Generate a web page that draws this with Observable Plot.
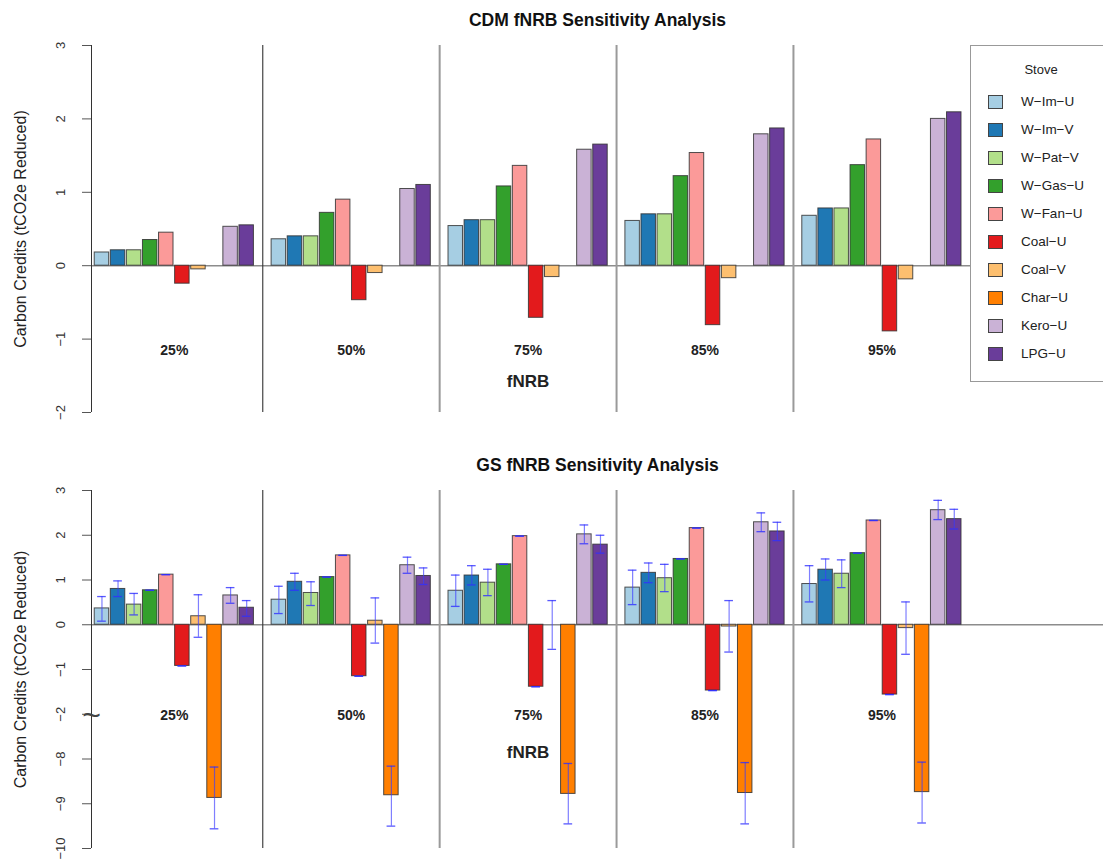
<!DOCTYPE html>
<html><head><meta charset="utf-8">
<script src="https://cdn.jsdelivr.net/npm/d3@7"></script>
<script src="https://cdn.jsdelivr.net/npm/@observablehq/plot@0.6"></script>
<style>
body{margin:0;background:#fff;font-family:"Liberation Sans",Arial,Helvetica,sans-serif;}
#wrap{position:relative;width:1103px;height:860px;overflow:hidden;background:#fff;}
.panel{position:absolute;left:0;}
#legend{position:absolute;left:970px;top:45px;width:150px;height:337px;border:1px solid #999;background:#fff;box-sizing:border-box;color:#222;}
#legend .ttl{position:absolute;left:0;width:140px;top:16px;text-align:center;font-size:13px;}
#legend .row{position:absolute;left:17px;height:16px;}
#legend .sw{position:absolute;left:0;top:0;width:15px;height:14px;border:1px solid #444;box-sizing:border-box;}
#legend .lb{position:absolute;left:33px;top:-1px;font-size:13.5px;white-space:nowrap;}
</style></head><body><div id="wrap"></div>
<script>
const fnrb = ["25%","50%","75%","85%","95%"];
const stoves = ["W\u2212Im\u2212U","W\u2212Im\u2212V","W\u2212Pat\u2212V","W\u2212Gas\u2212U","W\u2212Fan\u2212U","Coal\u2212U","Coal\u2212V","Char\u2212U","Kero\u2212U","LPG\u2212U"];
const stoveColors = ["#A6CEE3","#1F78B4","#B2DF8A","#33A02C","#FB9A99","#E31A1C","#FDBF6F","#FF7F00","#CAB2D6","#6A3D9A"];

// CDM values: one row per stove, one column per fNRB level
const cdmValues = [
  [0.18,0.36,0.54,0.61,0.68],
  [0.21,0.40,0.62,0.70,0.78],
  [0.21,0.40,0.62,0.70,0.78],
  [0.35,0.72,1.08,1.22,1.37],
  [0.45,0.90,1.36,1.535,1.72],
  [-0.245,-0.47,-0.71,-0.81,-0.895],
  [-0.05,-0.10,-0.155,-0.17,-0.186],
  [0,0,0,0,0],
  [0.53,1.045,1.58,1.79,2.0],
  [0.55,1.10,1.65,1.87,2.09]
];
// GS values with error-bar limits
const gsValues = [
  [0.365,0.56,0.76,0.83,0.91],
  [0.80,0.96,1.10,1.16,1.23],
  [0.45,0.71,0.94,1.04,1.14],
  [0.77,1.065,1.35,1.47,1.60],
  [1.12,1.55,1.98,2.16,2.33],
  [-0.92,-1.15,-1.385,-1.47,-1.56],
  [0.19,0.09,0.0,-0.04,-0.075],
  [-8.87,-8.81,-8.78,-8.76,-8.74],
  [0.655,1.33,2.02,2.29,2.56],
  [0.38,1.09,1.79,2.085,2.36]
];
const gsLow = [
  [0.08,0.25,0.41,0.45,0.51],
  [0.63,0.77,0.89,0.94,1.00],
  [0.22,0.43,0.65,0.74,0.83],
  [0.77,1.065,1.35,1.47,1.60],
  [1.12,1.55,1.98,2.16,2.33],
  [-0.92,-1.15,-1.385,-1.47,-1.56],
  [-0.28,-0.41,-0.55,-0.61,-0.66],
  [-9.56,-9.50,-9.45,-9.45,-9.43],
  [0.48,1.15,1.81,2.08,2.35],
  [0.19,0.90,1.60,1.88,2.14]
];
const gsHigh = [
  [0.63,0.86,1.11,1.22,1.32],
  [0.98,1.15,1.32,1.38,1.47],
  [0.70,0.96,1.24,1.35,1.45],
  [0.77,1.065,1.35,1.47,1.60],
  [1.12,1.55,1.98,2.16,2.33],
  [-0.92,-1.15,-1.385,-1.47,-1.56],
  [0.67,0.60,0.54,0.54,0.51],
  [-8.18,-8.16,-8.10,-8.08,-8.07],
  [0.83,1.51,2.23,2.50,2.78],
  [0.54,1.27,2.00,2.29,2.58]
];
const cdmTicks = [-2,-1,0,1,2,3];
const gsTicks = [-5,-4,-3,-2,-1,0,1,2,3]; // display positions; below the break they read -8,-9,-10
const gsBreakTick = [-2];

const GROUP = stoves.length + 1; // slots per group (one empty slot between groups)
const FONT = '"Liberation Sans", Arial, Helvetica, sans-serif';
const minus = v => String(v).replace("-", "\u2212");

function buildRows(vals, lo, hi) {
  const rows = [];
  fnrb.forEach((f, g) => stoves.forEach((s, i) => rows.push({
    stove: s, fnrb: f, pos: g * GROUP + i, color: stoveColors[i],
    value: vals[i][g], lo: lo ? lo[i][g] : null, hi: hi ? hi[i][g] : null
  })));
  return rows;
}
const groups = fnrb.map((f, g) => ({label: f, center: g * GROUP + (stoves.length - 1) / 2}));
const seps = fnrb.slice(1).map((f, g) => ({pos: g * GROUP + stoves.length, first: g === 0}));
const X_DOMAIN = [-0.65, 62.28];

function panel(o) {
  const brk = o.brk || (v => v);
  const rows = o.rows;
  const mid = {textAnchor: "middle", lineAnchor: "middle"};
  const marks = [
    Plot.ruleY([0], {stroke: "#8c8c8c", strokeWidth: 1.6}),
    Plot.ruleX(seps, {x: "pos", stroke: d => d.first ? "#333" : "#9a9a9a", strokeWidth: d => d.first ? 1.1 : 2}),
    Plot.rectY(rows, {x1: d => d.pos - 0.45, x2: d => d.pos + 0.45, y1: 0, y2: d => brk(d.value),
      fill: "color", stroke: "#333", strokeWidth: 1, strokeOpacity: 0.85})
  ];
  if (o.errors) {
    const er = rows.filter(d => d.lo != null);
    marks.push(
      Plot.ruleX(er, {x: "pos", y1: d => brk(d.lo), y2: d => brk(d.hi), stroke: "#3a3aff", strokeOpacity: 0.65, strokeWidth: 1.2}),
      Plot.ruleY(er, {x1: d => d.pos - 0.27, x2: d => d.pos + 0.27, y: d => brk(d.lo), stroke: "#2f2fff", strokeOpacity: 0.8, strokeWidth: 1.3}),
      Plot.ruleY(er, {x1: d => d.pos - 0.27, x2: d => d.pos + 0.27, y: d => brk(d.hi), stroke: "#2f2fff", strokeOpacity: 0.8, strokeWidth: 1.3})
    );
  }
  marks.push(
    Plot.ruleX([X_DOMAIN[0]], {y1: o.yDomain[0], y2: o.yDomain[1], stroke: "#333", strokeWidth: 1}),
    Plot.axisY({ticks: o.ticks, tickSize: 9, tickFormat: () => "", stroke: "#555"}),
    Plot.text(o.ticks, {y: d => d, text: d => minus(o.fmt(d)), frameAnchor: "left", dx: -31, rotate: -90, fontSize: 13, fill: "#333", ...mid}),
    Plot.text(groups, {x: "center", text: "label", frameAnchor: "bottom", dy: o.labelDy, fontSize: 14, fontWeight: "bold", fill: "#222", ...mid}),
    Plot.text([groups[2]], {x: "center", text: () => "fNRB", frameAnchor: "bottom", dy: o.fnrbDy, fontSize: 17, fontWeight: "bold", fill: "#222", ...mid}),
    Plot.text([o.title], {text: d => d, frameAnchor: "top", dy: -25, fontSize: 17.5, fontWeight: "bold", fill: "#111", ...mid}),
    Plot.text(["Carbon Credits (tCO2e Reduced)"], {text: d => d, frameAnchor: "left", dx: -71, rotate: -90, fontSize: 16, fill: "#222", ...mid})
  );
  if (o.breakTicks) {
    marks.push(Plot.text(o.breakTicks, {y: d => d, text: () => "~", frameAnchor: "left", dx: 0, dy: 1, fontSize: 32, fill: "#444", ...mid}));
  }
  return Plot.plot({
    width: 1103, height: o.height,
    marginLeft: 91, marginRight: 0, marginTop: o.marginTop, marginBottom: o.marginBottom,
    x: {domain: X_DOMAIN, axis: null},
    y: {domain: o.yDomain},
    style: {fontFamily: FONT, background: "white", overflow: "visible"},
    marks
  });
}

const wrap = document.getElementById("wrap");
const topPanel = panel({
  rows: buildRows(cdmValues), yDomain: [-2, 3], ticks: cdmTicks, fmt: d => d,
  title: "CDM fNRB Sensitivity Analysis", height: 430, marginTop: 45, marginBottom: 18,
  labelDy: -62, fnrbDy: -31
});
topPanel.classList.add("panel"); topPanel.style.top = "0px";
wrap.appendChild(topPanel);

const bottomPanel = panel({
  rows: buildRows(gsValues, gsLow, gsHigh), yDomain: [-5, 3], ticks: gsTicks,
  fmt: d => d <= -3 ? d - 5 : d, brk: v => v < -4 ? v + 5 : v, errors: true, breakTicks: gsBreakTick,
  title: "GS fNRB Sensitivity Analysis", height: 415, marginTop: 45, marginBottom: 12,
  labelDy: -133, fnrbDy: -96
});
bottomPanel.classList.add("panel"); bottomPanel.style.top = "445px";
wrap.appendChild(bottomPanel);

// legend
const lg = document.createElement("div");
lg.id = "legend";
lg.innerHTML = '<div class="ttl">Stove</div>' + stoves.map((s, i) =>
  `<div class="row" style="top:${49 + i * 28}px"><div class="sw" style="background:${stoveColors[i]}"></div><div class="lb">${s}</div></div>`).join("");
wrap.appendChild(lg);
</script></body></html>
